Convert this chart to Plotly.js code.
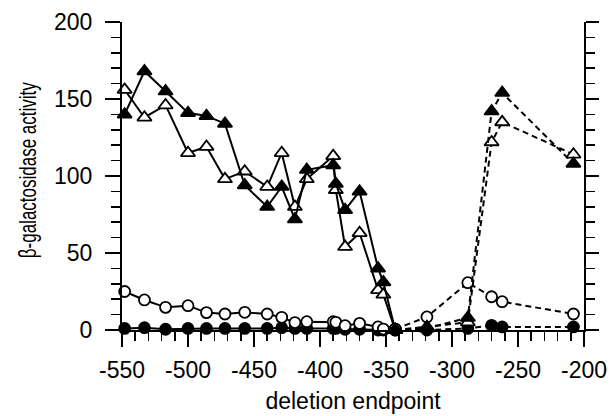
<!DOCTYPE html>
<html>
<head>
<meta charset="utf-8">
<script src="https://cdn.plot.ly/plotly-3.0.1.min.js"></script>
<style>html,body{margin:0;padding:0;background:#fff;}#chart{width:611px;height:416px;}</style>
</head>
<body>
<div id="chart"></div>
<script>
// deletion endpoints, solid segment
const xSolid = [-548, -533, -517, -500, -486, -472, -457, -440, -429, -419, -410, -390, -388, -381, -370, -356, -352, -343];
const filledTriSolid = [140, 168, 155, 141, 139, 134, 94, 80, 93, 72, 104, 107, 95, 78, 90, 40, 31, 0];
const openTriSolid   = [156, 138, 146, 115, 119, 98, 103, 93, 115, 80, 98, 113, 91, 54, 63, 26, 23, 0];
const openCircSolid  = [25, 19.5, 14.7, 15.8, 11.3, 10.4, 11.5, 10.4, 8.2, 4.8, 5.4, 5.4, 5, 2.8, 4.3, 2, 0.6, 0.6];
const filledCircSolid= [1, 1.5, 0.5, 1, 1, 1, 1, 1, 1.5, 1, 1, 1, 1, 0.5, 0.5, 0, 0, 0];

// deletion endpoints, dashed segment
const xDashed = [-343, -319, -288, -270, -262, -208];
const filledTriDashed = [0, 1, 8, 142, 154, 108];
const openTriDashed   = [0, 2, 5, 122, 135, 114];
const openCircDashed  = [0.6, 8.5, 30.7, 21.6, 18.4, 10.4];
const filledCircDashed= [0, 0, 1, 3, 2, 2];

const xTicks = [-550, -500, -450, -400, -350, -300, -250, -200];
const yTicks = [0, 50, 100, 150, 200];

const FONT = 'Liberation Sans, Arial, Helvetica, sans-serif';

function series(x, y, symbol, filled, dashed, size) {
  return {
    x: x, y: y, type: 'scatter', mode: 'lines+markers', showlegend: false,
    line: {color: '#000', width: 2, dash: dashed ? '6px,4px' : 'solid'},
    marker: {symbol: symbol, size: size, color: filled ? '#000' : '#fff',
             line: {color: '#000', width: 1.8}},
    cliponaxis: false
  };
}

const data = [
  series(xSolid, filledCircSolid, 'circle', true, false, 11),
  series(xDashed, filledCircDashed, 'circle', true, true, 11),
  series(xSolid, openCircSolid, 'circle', false, false, 11),
  series(xDashed, openCircDashed, 'circle', false, true, 11),
  series(xSolid, openTriSolid, 'triangle-up', false, false, 12.5),
  series(xDashed, openTriDashed, 'triangle-up', false, true, 12.5),
  series(xSolid, filledTriSolid, 'triangle-up', true, false, 12.5),
  series(xDashed, filledTriDashed, 'triangle-up', true, true, 12.5),
  {x: [], y: [], yaxis: 'y2', type: 'scatter', showlegend: false}
];

const layout = {
  width: 611, height: 416,
  margin: {l: 122, r: 27, t: 22, b: 86},
  paper_bgcolor: '#fff', plot_bgcolor: '#fff',
  font: {family: FONT, color: '#000', size: 22},
  showlegend: false,
  xaxis: {
    range: [-550, -200], tickvals: xTicks, ticktext: xTicks.map(String),
    ticks: 'outside', ticklen: 15, tickwidth: 2, tickcolor: '#000',
    showline: true, linecolor: '#000', linewidth: 2, showgrid: false, zeroline: false,
    minor: {dtick: 10, tick0: -550, ticks: 'outside', ticklen: 9, tickwidth: 1.5, tickcolor: '#000', showgrid: false},
    tickfont: {size: 23, family: FONT},
    ticklabelstandoff: 3,
    title: {text: 'deletion endpoint', font: {size: 23, family: FONT}, standoff: 11}
  },
  yaxis: {
    range: [0, 200], tickvals: yTicks, ticktext: yTicks.map(String),
    ticks: 'outside', ticklen: 15, tickwidth: 2, tickcolor: '#000',
    showline: true, linecolor: '#000', linewidth: 2, showgrid: false, zeroline: false,
    minor: {dtick: 10, ticks: 'outside', ticklen: 9, tickwidth: 1.5, tickcolor: '#000', showgrid: false},
    tickfont: {size: 23, family: FONT},
    ticklabelstandoff: 8,
    title: {text: 'β-galactosidase activity', font: {size: 17, family: FONT}, standoff: 14}
  },
  yaxis2: {
    overlaying: 'y', side: 'right', range: [0, 200], tickvals: yTicks,
    showticklabels: false,
    ticks: 'outside', ticklen: 13, tickwidth: 2, tickcolor: '#000',
    showline: true, linecolor: '#000', linewidth: 2, showgrid: false, zeroline: false,
    minor: {dtick: 10, ticks: 'outside', ticklen: 9, tickwidth: 1.5, tickcolor: '#000', showgrid: false}
  }
};

Plotly.newPlot('chart', data, layout, {staticPlot: true, displayModeBar: false}).then(function (gd) {
  // The reference's y title is drawn with wide, heavy glyphs: widen it across the page
  const t = gd.querySelector('.ytitle');
  if (t) {
    const svg = gd.querySelector('svg.main-svg');
    const sr = svg.getBoundingClientRect();
    const r = t.getBoundingClientRect();
    const cx = r.left - sr.left + r.width / 2;
    const cy = r.top - sr.top + r.height / 2;
    const old = t.getAttribute('transform') || '';
    t.setAttribute('transform', 'translate(28,170) scale(1.45,1) translate(' + (-cx) + ',' + (-cy) + ') ' + old);
  }
});
</script>
</body>
</html>
